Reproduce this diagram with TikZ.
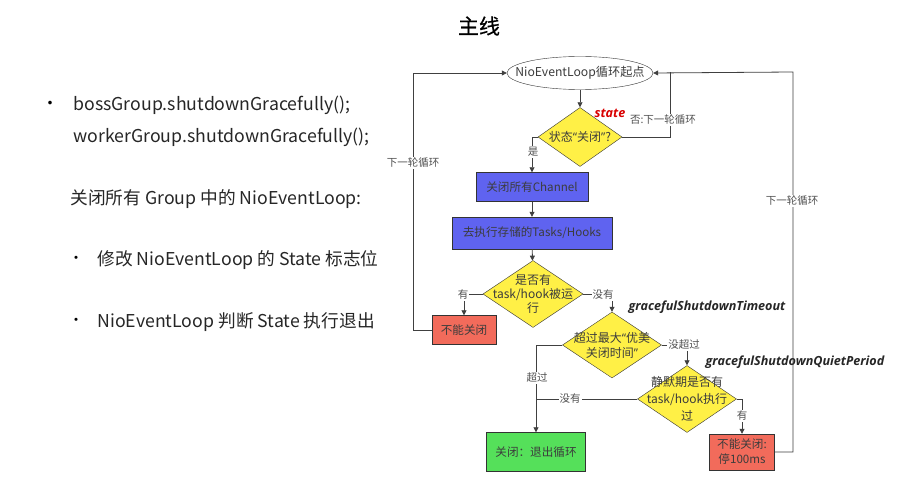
\documentclass[tikz,border=0pt]{standalone}
\usepackage{fontspec}
\setmainfont{Noto Sans CJK SC}
\newfontfamily\cjkbold{Noto Sans CJK SC}[FakeBold=0.5]
\newfontfamily\latinbi{Open Sans}
\newcommand\narrowq[1]{{\latinbi #1}}
\usetikzlibrary{shapes.geometric,arrows.meta}

\definecolor{dyellow}{RGB}{255,240,70}
\definecolor{bblue}{RGB}{95,99,240}
\definecolor{bred}{RGB}{242,107,91}
\definecolor{bgreen}{RGB}{85,224,90}
\definecolor{txtgray}{RGB}{60,60,60}
\definecolor{lblgray}{RGB}{80,80,80}

\tikzset{
  arr/.style={-{Triangle[length=5pt,width=5pt]},draw=black!75,line width=0.8pt},
  link/.style={draw=black!75,line width=0.8pt},
  decide/.style={diamond,draw=black!80,fill=dyellow,inner sep=0pt},
  dtext/.style={align=center,inner sep=0pt,font=\fontsize{12}{15}\selectfont,text=txtgray},
  actbox/.style={rectangle,draw=black!80,fill=bblue,inner sep=0pt,
    font=\fontsize{11.6}{13}\selectfont,text=txtgray},
  stopbox/.style={rectangle,draw=black!80,fill=bred,inner sep=0pt,align=center,
    font=\fontsize{11.6}{15}\selectfont,text=txtgray},
  lbl/.style={fill=white,inner sep=1pt,text=lblgray,font=\fontsize{10.5}{12}\selectfont},
  param/.style={font=\latinbi\fontsize{12.6}{14}\selectfont\bfseries\itshape,text=black!85},
  bullettext/.style={anchor=west,font=\fontsize{17.7}{20}\selectfont,text=black!85}
}

\begin{document}
\begin{tikzpicture}[x=1pt,y=-1pt]
  \useasboundingbox[fill=white] (0,0) rectangle (902,481);

% title and left column
  \node[font=\cjkbold\fontsize{21}{24}\selectfont] (title) at (479,26) {主线};
  \node[font=\fontsize{17}{20}\selectfont] (b1) at (50,105) {•};
  \node[bullettext] (boss) at (70,105) {bossGroup.shutdownGracefully();};
  \node[bullettext] (worker) at (70,137) {workerGroup.shutdownGracefully();};
  \node[bullettext] (allgrp) at (67,199) {关闭所有 Group 中的 NioEventLoop:};
  \node[font=\fontsize{15}{18}\selectfont] (b2) at (76,260) {•};
  \node[bullettext] (modst) at (94,260) {修改 NioEventLoop 的 State 标志位};
  \node[font=\fontsize{15}{18}\selectfont] (b3) at (76,322) {•};
  \node[bullettext] (judge) at (94,322) {NioEventLoop 判断 State 执行退出};

% flow nodes
  \node[ellipse,draw=black!80,minimum width=146pt,minimum height=33pt,inner sep=0pt,
    label={[dtext,font=\fontsize{12.2}{13}\selectfont]center:NioEventLoop循环起点}] (start) at (580,73) {};
  \node[decide,minimum width=84pt,minimum height=59pt,
    label={[dtext]center:状态\narrowq{“}关闭\narrowq{”}?}] (chk) at (580,137) {};
  \node[actbox,minimum width=112pt,minimum height=29pt] (chan) at (532,187) {关闭所有Channel};
  \node[actbox,minimum width=160pt,minimum height=32pt] (tasks) at (532,233) {去执行存储的Tasks/Hooks};
  \node[decide,minimum width=100pt,minimum height=67pt,
    label={[dtext,font=\fontsize{12}{14}\selectfont]center:{是否有\\task/hook被运\\行}}] (ran) at (533,294) {};
  \node[stopbox,minimum width=64pt,minimum height=29pt] (nostop) at (464,330) {不能关闭};
  \node[decide,minimum width=99pt,minimum height=66pt,
    label={[dtext]center:{超过最大\narrowq{“}优美\\关闭时间\narrowq{”}}}] (tmo) at (612,345) {};
  \node[decide,minimum width=99pt,minimum height=67pt,
    label={[dtext,font=\fontsize{12}{17}\selectfont]center:{静默期是否有\\task/hook执行\\过}}] (quiet) at (687,399) {};
  \node[rectangle,draw=black!80,fill=bgreen,minimum width=99pt,minimum height=39pt,
    inner sep=0pt,font=\fontsize{11.6}{13}\selectfont,text=txtgray] (done) at (536,452) {关闭：退出循环};
  \node[stopbox,minimum width=65pt,minimum height=36pt] (wait) at (742,452) {不能关闭:\\停100ms};

% parameter names
  \node[param,text=red!85!black] (state) at (610,113) {state};
  \node[param] (tmoname) at (707,307) {gracefulShutdownTimeout};
  \node[param] (quietname) at (795,362) {gracefulShutdownQuietPeriod};

% loop-back corners
  \coordinate (leftx) at (413,330);
  \coordinate (rtop1) at (670,72);
  \coordinate (rtop2) at (793,72);

% connectors
  \draw[arr] (start) -- (chk);
  \draw[arr] (chk.west) -| (chan.north);
  \draw[link] (chk.east) -| (rtop1);
  \draw[arr] (chan) -- (tasks);
  \draw[arr] (tasks) -- (ran);
  \draw[arr] (ran.west) -| (nostop.north);
  \draw[arr] (nostop.west) -- (leftx) |- (start.west);
  \draw[arr] (ran.east) -| (tmo.north);
  \draw[arr] (tmo.west) -| (done.north);
  \draw[arr] (tmo.east) -| (quiet.north);
  \draw[link] (quiet.west) -- (quiet.west -| done.north);
  \draw[arr] (quiet.east) -| (wait.north);
  \draw[arr] (wait.east) -| (rtop2) -- (start.east);

% connector labels
  \node[lbl] (yes1) at (533,152) {是};
  \node[lbl] (no1) at (663,120) {否:下一轮循环};
  \node[lbl] (has1) at (463,295) {有};
  \node[lbl] (back1) at (413,163) {下一轮循环};
  \node[lbl] (none1) at (603,295) {没有};
  \node[lbl] (over) at (537,378) {超过};
  \node[lbl] (notover) at (684,345) {没超过};
  \node[lbl] (none2) at (570,399) {没有};
  \node[lbl] (has2) at (742,416) {有};
  \node[lbl] (back2) at (792,201) {下一轮循环};

\end{tikzpicture}
\end{document}
